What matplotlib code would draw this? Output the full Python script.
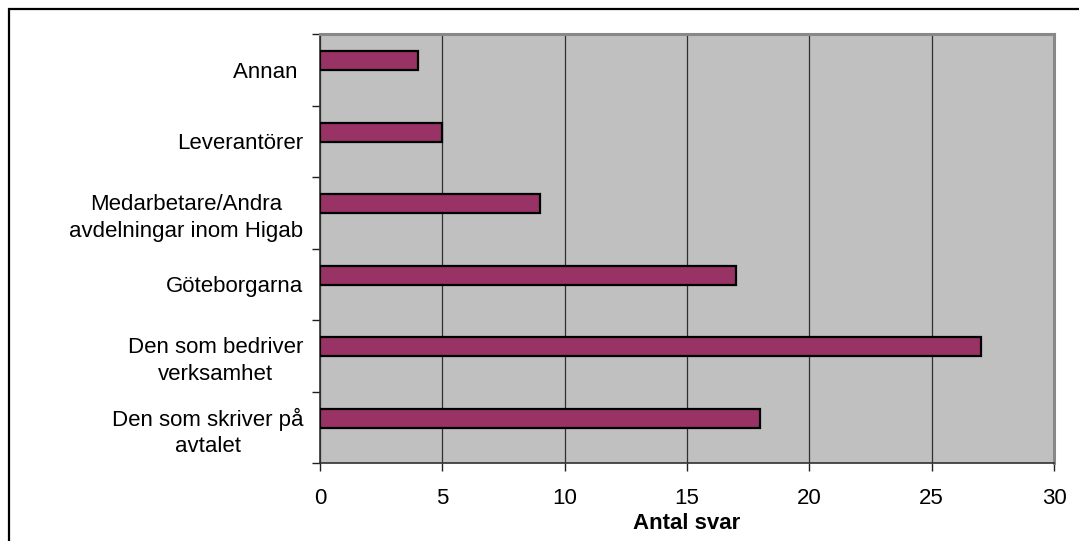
import matplotlib.pyplot as plt
from matplotlib.patches import Rectangle
import numpy as np

# bottom to top
categories = [
    "Den som skriver på\navtalet",
    "Den som bedriver\nverksamhet",
    "Göteborgarna",
    "Medarbetare/Andra\navdelningar inom Higab",
    "Leverantörer",
    "Annan ",
]
antal = [18, 27, 17, 9, 5, 4]
x_ticks = [0, 5, 10, 15, 20, 25, 30]

plt.rcParams["font.family"] = ["Liberation Sans", "DejaVu Sans"]

fig = plt.figure(figsize=(10.79, 5.41), dpi=100)
ax = fig.add_axes([320 / 1079, 1 - 463 / 541, 734 / 1079, 429 / 541])
ax.set_facecolor("#c0c0c0")

pos = np.arange(len(categories))
bar_shift = 0.125  # bars sit a little above the category centre
ax.barh(pos + bar_shift, antal, height=0.27, color="#993366",
        edgecolor="black", linewidth=1.6, zorder=3)

ax.set_xlim(0, 30)
ax.set_ylim(-0.5, len(categories) - 0.5)
ax.set_xticks(x_ticks)
ax.set_xticklabels([str(t) for t in x_ticks], fontsize=16)
ax.xaxis.grid(True, color="#303030", linewidth=0.9, zorder=1)
ax.set_axisbelow(True)

# category labels between the boundary ticks
ax.set_yticks(pos)
ax.set_yticklabels(categories, fontsize=16, multialignment="center",
                   linespacing=1.35)
ax.tick_params(axis="y", length=0, pad=12)
ax.set_yticks(np.arange(len(categories) + 1) - 0.5, minor=True)
ax.tick_params(axis="y", which="minor", length=6, width=1, color="#202020")
ax.tick_params(axis="x", length=6, width=1, color="#202020", pad=12)

ax.set_xlabel("Antal svar", fontsize=16, fontweight="bold", labelpad=3)

for side in ("top", "right"):
    ax.spines[side].set_color("#888888")
    ax.spines[side].set_linewidth(2.2)
for side in ("left", "bottom"):
    ax.spines[side].set_color("#303030")
    ax.spines[side].set_linewidth(1.2)

# outer frame around the chart
fig.patches.append(Rectangle((8.5 / 1079, -0.1), 1.2, 1.1 - 8.5 / 541,
                             transform=fig.transFigure, fill=False,
                             edgecolor="black", linewidth=1.6))

fig.savefig("out.png", dpi=100, facecolor="white")
